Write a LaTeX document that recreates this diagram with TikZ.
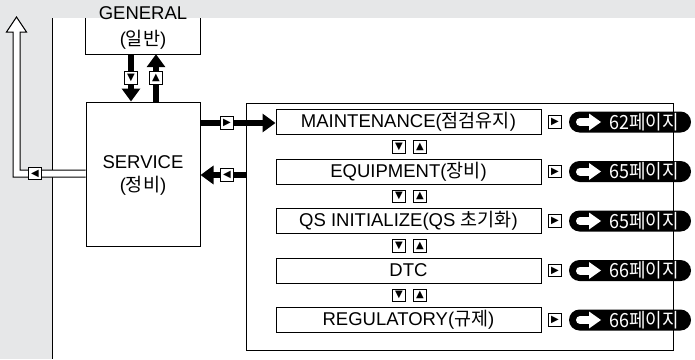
\documentclass[tikz,border=0pt]{standalone}
\usepackage{fontspec}
\setmainfont{Liberation Sans}
\newfontfamily\kr{Noto Sans CJK KR}
\newfontfamily\krc[FakeStretch=0.92]{Noto Sans CJK KR}
\newfontfamily\symf{DejaVu Sans}
\usetikzlibrary{arrows.meta,shapes.misc}
\definecolor{bggray}{HTML}{E6E7E8}
\tikzset{
  txt/.style={inner sep=0pt, font=\fontsize{18.5}{20}\selectfont},
  box/.style={draw, line width=1pt, fill=white, inner sep=0pt},
  subbox/.style={box, minimum width=265pt, minimum height=25pt, font=\fontsize{18.5}{20}\selectfont},
  icon/.style={draw, fill=white, line width=1pt, minimum size=12.5pt, inner sep=0pt, font=\symf\fontsize{10}{10}\selectfont},
  bigarrow/.style={line width=6.5pt, -{Triangle[length=13pt,width=18pt]}},
  pill/.style={rounded rectangle, fill=black, minimum width=122pt, minimum height=21pt, inner sep=0pt},
  pilltxt/.style={inner sep=0pt, text=white, font=\krc\fontsize{19.5}{20}\selectfont}
}
\begin{document}
\begin{tikzpicture}[x=1pt,y=-1pt]
\useasboundingbox (0,0) rectangle (695,359);
% background
\fill[bggray] (0,0) rectangle (695,359);
\fill[white] (52,18) rectangle (695,359);
\draw[line width=0.9pt] (52,18) -- (52,359);

% GENERAL
\node[minimum width=114pt, minimum height=36pt, inner sep=0pt] (general) at (143,36) {};
\draw[line width=1pt] (general.north west) |- (general.south east) -- (general.north east);
\node[txt] (gen1) at (143,13) {GENERAL};
\node[txt] (gen2) at (143,40) {({\kr 일반})};

% SERVICE
\node[box, minimum width=114pt, minimum height=144pt] (service) at (143,174) {};
\node[txt] (serv1) at (143,162) {SERVICE};
\node[txt] (serv2) at (143,186) {({\kr 정비})};

% container
\node[draw, line width=1pt, minimum width=427pt, minimum height=247pt, inner sep=0pt] (cont) at (459.5,226.5) {};

% sub boxes
\node[subbox] (mnt) at (408.5,122) {MAINTENANCE({\kr 점검유지})};
\node[subbox] (eqp) at (408.5,171.5) {EQUIPMENT({\kr 장비})};
\node[subbox] (qsi) at (408.5,221) {QS INITIALIZE(QS {\kr 초기화})};
\node[subbox] (dtc) at (408.5,270.5) {DTC};
\node[subbox] (reg) at (408.5,320) {REGULATORY({\kr 규제})};

% between-box icons
\foreach \y/\n in {146.75/a,196.25/b,245.75/c,295.25/d}{
  \node[icon] (dn\n) at (399,\y) {▼};
  \node[icon] (up\n) at (420,\y) {▲};
}

% pills
\foreach \nm/\pg in {mnt/62,eqp/65,qsi/65,dtc/66,reg/66}{
  \node[icon] (go\nm) at (555,0 |- \nm.center) {▶};
  \node[pill] (pill\nm) at (630,0 |- \nm.center) {};
  \draw[white, line width=8pt, line cap=round] ([xshift=-50pt]pill\nm.center) -- ([xshift=-40pt]pill\nm.center);
  \fill[white] ([xshift=-41pt,yshift=8.5pt]pill\nm.center) -- ([xshift=-29pt]pill\nm.center) -- ([xshift=-41pt,yshift=-8.5pt]pill\nm.center) -- cycle;
  \node[pilltxt] (pt\nm) at ([xshift=14pt]pill\nm.center) {\pg 페이지};
}

% GENERAL <-> SERVICE
\draw[bigarrow] (general.south -| 131,0) -- (service.north -| 131,0);
\draw[bigarrow] (service.north -| 156,0) -- (general.south -| 156,0);
\node[icon] (gsd) at (131,78) {▼};
\node[icon] (gsu) at (156,78) {▲};

% SERVICE <-> container
\draw[bigarrow] (service.east |- 0,123) -- (mnt.west |- 0,123);
\node[icon] (sm) at (227,123) {▶};
\draw[bigarrow] (cont.west |- 0,175) -- (service.east |- 0,175);
\node[icon] (cs) at (227,175) {◀};

% hollow return arrow
\filldraw[fill=white, line width=1pt] (service.west |- 0,170) -- (20,170) -- (20,32) -- (26.5,32) -- (16.5,17) -- (6.5,32) -- (13,32) -- (13,177) -- (service.west |- 0,177);
\node[icon] (ret) at (35,173.5) {◀};
\end{tikzpicture}
\end{document}
